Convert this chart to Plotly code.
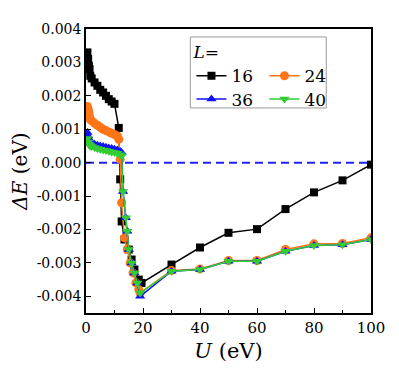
import plotly.graph_objects as go

# ---- data ----
u16 = [0.5, 0.75, 1.0, 1.25, 1.5, 2, 3, 4, 5, 6, 7, 8, 9, 10, 11.5, 12, 12.5, 13.5, 15, 16, 17, 18.5, 19.5,
       30, 40, 50, 60, 70, 80, 90, 100]
e16 = [0.0033, 0.0031, 0.0029, 0.0028, 0.0026, 0.00252, 0.0024, 0.0023, 0.00218, 0.0021, 0.0020, 0.0019,
       0.00183, 0.00176, 0.00104, -0.0005, -0.00176, -0.0023, -0.0026, -0.0029, -0.0032, -0.0035, -0.0036,
       -0.00305, -0.00254, -0.0021, -0.00199, -0.00139, -0.00089, -0.00053, -0.00006]

u24 = [0.5, 0.75, 1.0, 1.25, 1.5, 2, 3, 4, 5, 6, 7, 8, 9, 10, 11, 11.5, 12, 12.5, 13.5, 14.5, 15.5, 16.5,
       17.5, 18.5, 19, 30, 40, 50, 60, 70, 80, 90, 100]
e24 = [0.00168, 0.0016, 0.0015, 0.0014, 0.0013, 0.00125, 0.00118, 0.00112, 0.00106, 0.0010, 0.00096,
       0.00092, 0.00088, 0.00084, 0.0008, 0.0007, 0.0001, -0.0012, -0.00225, -0.0026, -0.0030, -0.0033,
       -0.0036, -0.0038, -0.0039, -0.00323, -0.00318, -0.00293, -0.00293, -0.0026, -0.00243, -0.00242, -0.00225]

u36 = [0.5, 0.75, 1.0, 1.25, 1.5, 2, 3, 4, 5, 6, 7, 8, 9, 10, 11, 12, 12.5, 13, 14, 14.5, 15, 16, 17, 18, 19,
       30, 40, 50, 60, 70, 80, 90, 100]
e36 = [0.0009, 0.0008, 0.00072, 0.00066, 0.00062, 0.00058, 0.00055, 0.00052, 0.0005, 0.00048, 0.00046,
       0.00044, 0.00042, 0.0004, 0.00038, 0.00033, 0.0003, -0.00086, -0.00165, -0.00205, -0.0026, -0.0030,
       -0.0033, -0.0036, -0.0040, -0.00325, -0.0032, -0.00295, -0.00295, -0.00265, -0.00248, -0.00246, -0.0023]

u40 = [0.5, 0.75, 1.0, 1.25, 1.5, 2, 3, 4, 5, 6, 7, 8, 9, 10, 11, 12, 12.5, 13, 14, 14.5, 15, 16, 17, 18, 19,
       30, 40, 50, 60, 70, 80, 90, 100]
e40 = [0.00072, 0.00062, 0.00056, 0.00052, 0.0005, 0.00048, 0.00045, 0.00042, 0.0004, 0.00038, 0.00036,
       0.00034, 0.00032, 0.0003, 0.00028, 0.00024, 0.0002, -0.00086, -0.00165, -0.00205, -0.0026, -0.0030,
       -0.0033, -0.0036, -0.0039, -0.00325, -0.0032, -0.00295, -0.00295, -0.00265, -0.00248, -0.00246, -0.0023]

x_ticks = [0, 20, 40, 60, 80, 100]
y_ticks = [-0.004, -0.003, -0.002, -0.001, 0.0, 0.001, 0.002, 0.003, 0.004]
y_ticktext = ["-0.004", "-0.003", "-0.002", "-0.001", "0.000", "0.001", "0.002", "0.003", "0.004"]

FONT = "DejaVu Serif"

fig = go.Figure()
fig.add_trace(go.Scatter(x=u16, y=e16, mode="lines+markers", name="16", legend="legend",
                         line=dict(color="black", width=1.5),
                         marker=dict(symbol="square", size=8, color="black")))
fig.add_trace(go.Scatter(x=u24, y=e24, mode="lines+markers", name="24", legend="legend",
                         line=dict(color="#FF7518", width=1.5),
                         marker=dict(symbol="circle", size=9, color="#FF7518")))
fig.add_trace(go.Scatter(x=u36, y=e36, mode="lines+markers", name="36", legend="legend2",
                         line=dict(color="#1010FF", width=1.5),
                         marker=dict(symbol="triangle-up", size=9, color="#1010FF")))
fig.add_trace(go.Scatter(x=u40, y=e40, mode="lines+markers", name="40", legend="legend2",
                         line=dict(color="#33CC33", width=1.5),
                         marker=dict(symbol="triangle-down", size=9, color="#33CC33")))

# zero reference line
fig.add_shape(type="line", xref="paper", yref="y", x0=0, x1=1, y0=0, y1=0,
              line=dict(color="#2020FF", width=2, dash="8px,5px"), layer="below")
# legend frame
fig.add_shape(type="rect", xref="paper", yref="paper", x0=0.366, x1=0.843, y0=0.722, y1=0.972,
              line=dict(color="#999999", width=1), fillcolor="rgba(0,0,0,0)")

fig.update_layout(
    width=399, height=371,
    margin=dict(l=78, r=36, t=21, b=66),
    plot_bgcolor="white", paper_bgcolor="white",
    font=dict(family=FONT, size=15, color="black"),
    showlegend=True,
    legend=dict(x=0.37, y=0.975, xanchor="left", yanchor="top", orientation="h",
                title=dict(text="<i>L</i>=", side="top", font=dict(family=FONT, size=17)),
                font=dict(family=FONT, size=17), bgcolor="rgba(0,0,0,0)", borderwidth=0,
                entrywidth=28),
    legend2=dict(x=0.37, y=0.815, xanchor="left", yanchor="top", orientation="h",
                 font=dict(family=FONT, size=17), bgcolor="rgba(0,0,0,0)", borderwidth=0,
                 entrywidth=28),
    xaxis=dict(range=[0, 100], tickvals=x_ticks, ticks="inside", ticklen=5, tickwidth=1.2,
               tickcolor="black", showline=True, linecolor="black", linewidth=1.5, mirror=True,
               showgrid=False, zeroline=False, tickfont=dict(family=FONT, size=15),
               minor=dict(ticks="inside", ticklen=3, dtick=10, tickcolor="black", showgrid=False),
               title=dict(text="<i>U</i> (eV)", font=dict(family=FONT, size=21), standoff=8)),
    yaxis=dict(range=[-0.0045, 0.004], tickvals=y_ticks, ticktext=y_ticktext, ticks="inside",
               ticklen=5, tickwidth=1.2, tickcolor="black", showline=True, linecolor="black",
               linewidth=1.5, mirror=True, showgrid=False, zeroline=False,
               tickfont=dict(family=FONT, size=14),
               title=dict(text="<i>ΔE</i> (eV)", font=dict(family=FONT, size=20), standoff=4)),
)

fig.write_html("out.html")
